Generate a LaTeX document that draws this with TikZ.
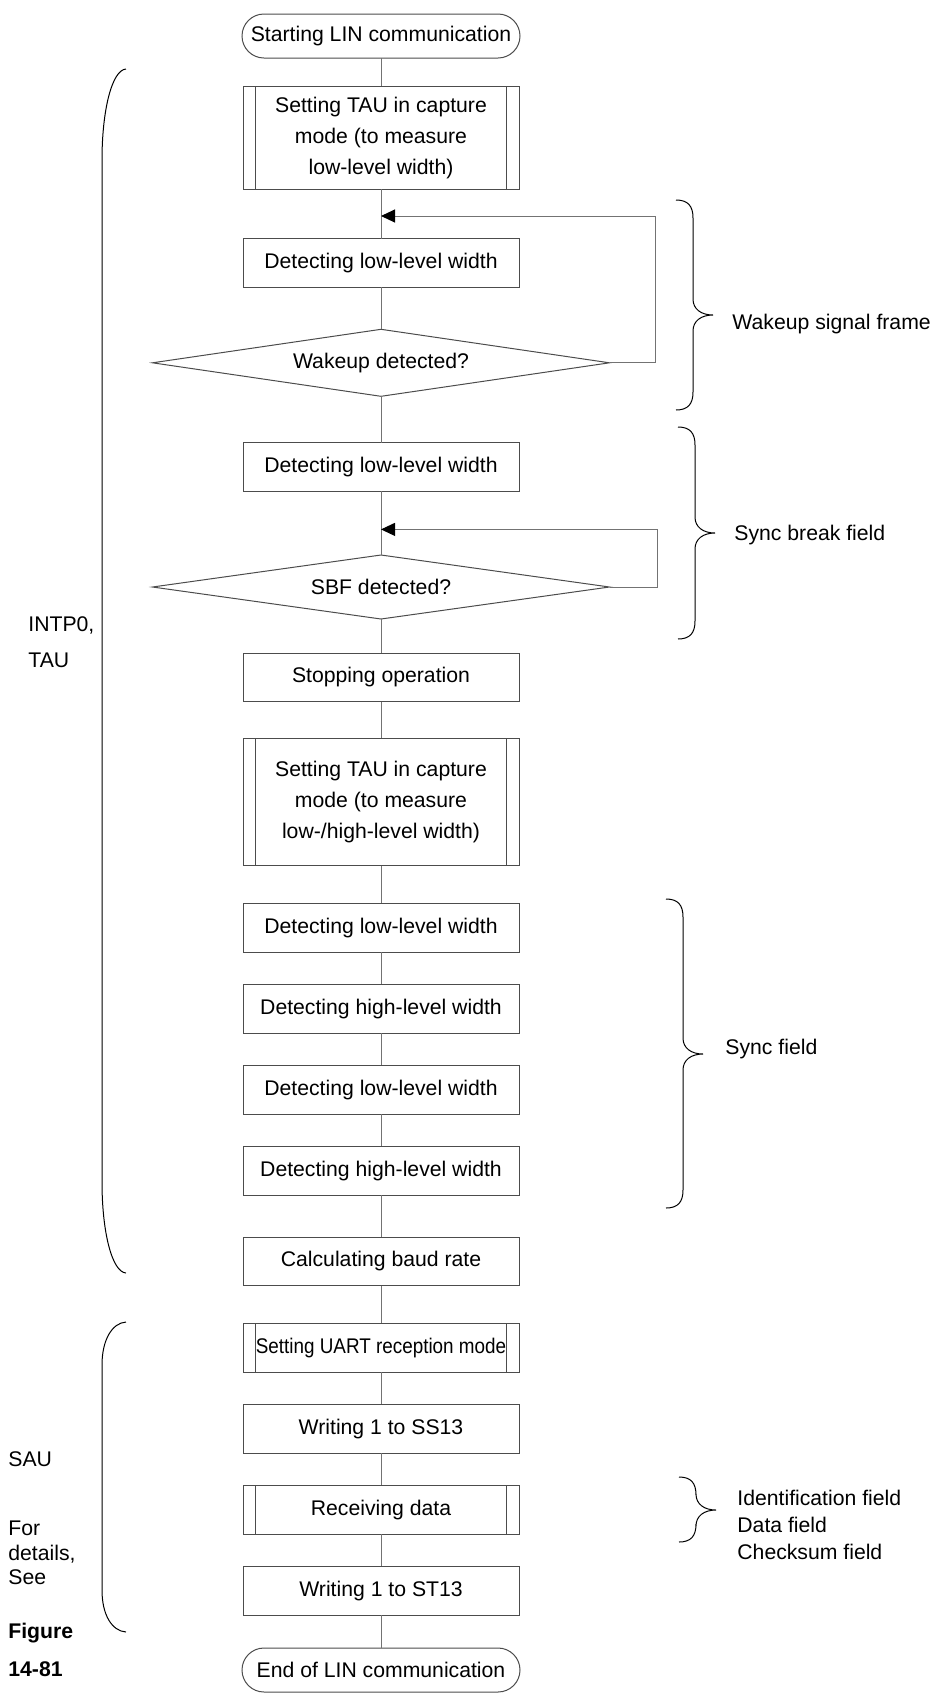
\documentclass[tikz,border=0pt]{standalone}
\usepackage{fontspec}
\setmainfont{Liberation Sans}
\usepackage{graphicx}
\usetikzlibrary{arrows.meta, positioning, shapes.geometric, calc}

\definecolor{flowline}{gray}{0.45}
\definecolor{flowedge}{gray}{0.3}

% curly brace pointing right: x of the ends, top y, tip y, bottom y
\newcommand{\fieldbrace}[4]{%
  \draw[fbrace] (#1,#2) .. controls (#1+12,#2) and (#1+17,#2+6) .. (#1+17,#2+18)
    -- (#1+17,#3-16) .. controls (#1+17,#3-6) and (#1+25,#3) .. (#1+37,#3)
    .. controls (#1+25,#3) and (#1+17,#3+6) .. (#1+17,#3+16)
    -- (#1+17,#4-18) .. controls (#1+17,#4-6) and (#1+12,#4) .. (#1,#4);}

\begin{document}
\begin{tikzpicture}[
    x=0.5pt, y=-0.5pt,
    font=\fontsize{10.6}{15.5}\selectfont,
    term/.style={draw=flowedge, line width=0.5pt, rounded corners=11pt,
                 minimum width=139pt, minimum height=22pt, inner sep=0pt, outer sep=0pt},
    proc/.style={draw=flowedge, line width=0.5pt, minimum width=138pt,
                 minimum height=24.3pt, inner sep=2pt, outer sep=0pt, align=center},
    subproc/.style={proc, path picture={
        \draw[flowedge, line width=0.5pt]
          ([xshift=6.25pt]path picture bounding box.north west) -- ([xshift=6.25pt]path picture bounding box.south west)
          ([xshift=-6.25pt]path picture bounding box.north east) -- ([xshift=-6.25pt]path picture bounding box.south east);}},
    decide/.style={draw=flowedge, line width=0.5pt, shape=diamond, aspect=6.9,
                   minimum width=228.5pt, minimum height=33pt, inner sep=0pt, outer sep=0pt},
    link/.style={draw=flowline, line width=0.5pt},
    arr/.style={link, -{Triangle[length=7pt, width=6.5pt, color=black]}},
    fbrace/.style={line width=0.5pt},
    note/.style={anchor=west, inner sep=0pt, align=left}
  ]
    \useasboundingbox (0,0) rectangle (933,1693);

    \node[term] (start) at (381,36) {Starting LIN communication};
    \node[subproc, minimum height=51.3pt, below=14.2pt of start] (tauset1) {Setting TAU in capture\\mode (to measure\\low-level width)};
    \node[proc, below=24.85pt of tauset1] (detw1) {Detecting low-level width};
    \node[decide, minimum height=33.5pt, below=21pt of detw1] (dwake) {Wakeup detected?};
    \node[proc, below=23.25pt of dwake] (detw2) {Detecting low-level width};
    \node[decide, minimum height=32pt, below=31.8pt of detw2] (dsbf) {SBF detected?};
    \node[proc, below=17pt of dsbf] (stop) {Stopping operation};
    \node[subproc, minimum height=63.7pt, below=18.3pt of stop] (tauset2) {Setting TAU in capture\\mode (to measure\\low-/high-level width)};
    \node[proc, below=18.9pt of tauset2] (detlo1) {Detecting low-level width};
    \node[proc, below=16.2pt of detlo1] (dethi1) {Detecting high-level width};
    \node[proc, below=16.2pt of dethi1] (detlo2) {Detecting low-level width};
    \node[proc, below=16.2pt of detlo2] (dethi2) {Detecting high-level width};
    \node[proc, below=21pt of dethi2] (baud) {Calculating baud rate};
    \node[subproc, below=18.9pt of baud] (uart) {\scalebox{0.89}[1]{Setting UART reception mode}};
    \node[proc, below=16.2pt of uart] (ss13) {Writing 1 to SS13};
    \node[subproc, below=16.2pt of ss13] (recv) {Receiving data};
    \node[proc, below=16.2pt of recv] (st13) {Writing 1 to ST13};
    \node[term, below=16.5pt of st13] (finish) {End of LIN communication};

    \draw[link] (start) -- (tauset1);
    \draw[link] (tauset1) -- (detw1);
    \draw[link] (detw1) -- (dwake);
    \draw[link] (dwake) -- (detw2);
    \draw[link] (detw2) -- (dsbf);
    \draw[link] (dsbf) -- (stop);
    \draw[link] (stop) -- (tauset2);
    \draw[link] (tauset2) -- (detlo1);
    \draw[link] (detlo1) -- (dethi1);
    \draw[link] (dethi1) -- (detlo2);
    \draw[link] (detlo2) -- (dethi2);
    \draw[link] (dethi2) -- (baud);
    \draw[link] (baud) -- (uart);
    \draw[link] (uart) -- (ss13);
    \draw[link] (ss13) -- (recv);
    \draw[link] (recv) -- (st13);
    \draw[link] (st13) -- (finish);

    % loops back into the main line
    \coordinate (wjoin) at ([yshift=-13.5pt]tauset1.south);
    \coordinate (sjoin) at ([yshift=-19pt]detw2.south);
    \draw[arr] (dwake.east) -- ++(23pt,0pt) |- (wjoin);
    \draw[arr] (dsbf.east) -- ++(24pt,0pt) |- (sjoin);

    % field braces on the right
    \fieldbrace{676}{200}{315}{410}
    \fieldbrace{678}{427}{533}{639}
    \fieldbrace{666}{899}{1054}{1208}
    \fieldbrace{679}{1477}{1510}{1542}

    \node[note] (wakelbl) at (732,324) {Wakeup signal frame};
    \node[note] (sbflbl) at (734,535) {Sync break field};
    \node[note] (synclbl) at (725,1049) {Sync field};
    \node[note, font=\fontsize{10.6}{13.5}\selectfont] (idlbl) at (737,1525) {Identification field\\Data field\\Checksum field};

    % brackets on the left
    \draw[fbrace] (126,69) .. controls (112,70) and (102,110) .. (102,160)
      -- (102,1182) .. controls (102,1232) and (112,1272) .. (126,1273);
    \draw[fbrace] (126,1322) .. controls (112,1323) and (102,1340) .. (102,1365)
      -- (102,1590) .. controls (102,1615) and (112,1631) .. (126,1632);

    \node[note, font=\fontsize{10.6}{18}\selectfont] (tauside) at (28,642) {INTP0,\\TAU};
    \node[note] (sauside) at (8,1459) {SAU};
    \node[note] (forside) at (8,1528) {For};
    \node[note, font=\fontsize{10.6}{12}\selectfont] (seeside) at (8,1565) {details,\\See};
    \node[note, font=\fontsize{10.6}{19}\selectfont\bfseries] (figside) at (8,1650) {Figure\\14-81};
  \end{tikzpicture}
\end{document}
